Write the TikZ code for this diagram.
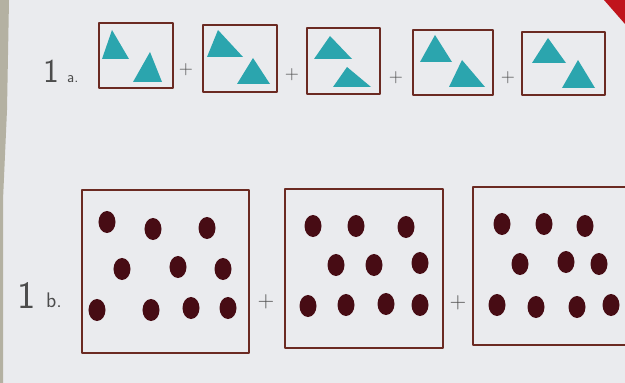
\documentclass[tikz,border=0pt]{standalone}
\usetikzlibrary{positioning}
\definecolor{wsPaper}{HTML}{EAEBEE}
\definecolor{wsEdge}{HTML}{B4B1A2}
\definecolor{wsBrown}{HTML}{6B2A22}
\definecolor{wsTeal}{HTML}{2BA5AE}
\definecolor{wsDot}{HTML}{470C14}
\definecolor{wsPencil}{HTML}{4C4C4C}
\definecolor{wsRed}{HTML}{C0141C}
\tikzset{
  wsCard/.style={draw=wsBrown, line width=3.2pt, line join=round},
  wsTri/.style={fill=wsTeal},
  wsCounter/.style={fill=wsDot},
}
\begin{document}
\begin{tikzpicture}[x=0.04cm, y=-0.04cm,
  num/.style={text=wsPencil, inner sep=0pt, anchor=base},
  sub/.style={text=wsPencil, inner sep=0pt, anchor=base west},
  plus/.style={text=wsPencil, inner sep=0pt,
    font=\sffamily\fontsize{22}{22}\selectfont}
]
\useasboundingbox (0,0) rectangle (625,383);
\clip (0,0) rectangle (625,383);
\fill[wsPaper] (0,0) rectangle (625,383);
\fill[wsEdge] (0,0) -- (9,0) -- (7,110) -- (3,200) -- (3,383) -- (0,383) -- cycle;
\fill[wsRed] (604,0) -- (625,0) -- (625,24) -- cycle;

% row 1a
\node[num, font=\sffamily\fontsize{38}{38}\selectfont] (numA) at (51,83) {1};
\node[sub, font=\sffamily\fontsize{18}{18}\selectfont] (subA) at (67,83) {a.};
\foreach \l/\t/\r/\b in {99/23/173/88, 203/25/277/92, 307/28/380/94,
    413/30/493/95, 522/32/605/95}
  \draw[wsCard] (\l,\t) rectangle (\r,\b);
\foreach \ax/\ay/\bx/\by/\cx/\cy in {
    112/30/102/59/129/59, 150/52/133/82/162/82,
    218/30/207/57/243/57, 253/58/237/84/270/84,
    330/36/314/59/352/59, 347/67/333/87/371/87,
    435/35/420/62/452/62, 462/60/449/87/485/87,
    548/38/532/63/566/63, 578/60/562/88/595/88}
  \fill[wsTri] (\ax,\ay) -- (\bx,\by) -- (\cx,\cy) -- cycle;
\node[plus] (plusA1) at (186,70) {+};
\node[plus] (plusA2) at (292,75) {+};
\node[plus] (plusA3) at (396,78) {+};
\node[plus] (plusA4) at (508,78) {+};

% row 1b
\node[num, font=\sffamily\fontsize{44}{44}\selectfont] (numB) at (27,308) {1};
\node[sub, font=\sffamily\fontsize{24}{24}\selectfont] (subB) at (46,307) {b.};
\foreach \l/\t/\r/\b in {82/190/249/353, 285/189/443/348, 473/187/640/345}
  \draw[wsCard] (\l,\t) rectangle (\r,\b);
\foreach \x/\y in {
    107/222, 153/229, 207/228, 122/269, 178/267, 223/269,
    97/310, 151/310, 191/308, 228/308,
    313/226, 356/226, 406/227, 336/265, 374/265, 420/263,
    308/306, 346/305, 386/304, 420/305,
    502/224, 544/224, 585/226, 520/264, 566/262, 599/264,
    497/305, 536/307, 577/307, 611/305}
  \fill[wsCounter] (\x,\y) ellipse [x radius=0.34cm, y radius=0.44cm];
\node[plus, font=\sffamily\fontsize{26}{26}\selectfont] (plusB1) at (266,302) {+};
\node[plus, font=\sffamily\fontsize{26}{26}\selectfont] (plusB2) at (458,303) {+};
\end{tikzpicture}
\end{document}
